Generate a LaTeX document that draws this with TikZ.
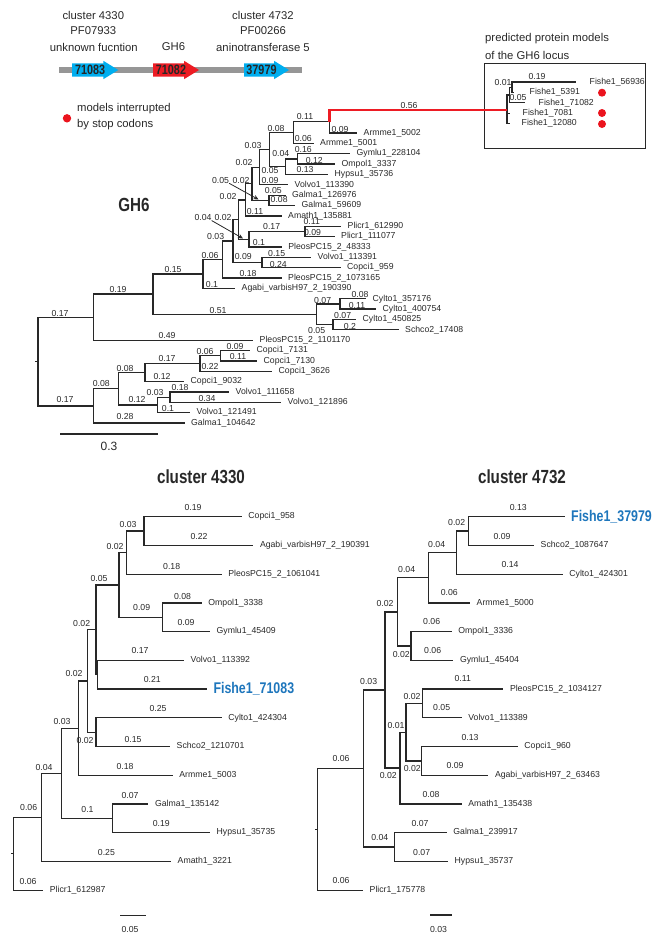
\documentclass[tikz,border=0pt]{standalone}
\usepackage{fontspec}
\setmainfont{Liberation Sans}
\newfontfamily\condfont[FakeStretch=0.8]{Liberation Sans}
\usetikzlibrary{arrows.meta}
\definecolor{genblue}{RGB}{0,174,239}
\definecolor{genred}{RGB}{237,28,36}
\definecolor{barg}{RGB}{150,150,150}
\definecolor{fishblue}{RGB}{30,118,188}
\definecolor{ln}{RGB}{40,40,40}
\definecolor{dotred}{RGB}{235,20,30}
\newcounter{lbc}
\newcommand\bl[2]{\stepcounter{lbc}\node[blab] (bl\arabic{lbc}) at (#1) {#2};}
\newcommand\lf[3]{\coordinate (#1) at (#2); \node[leaf] (#1t) at (#1) {#3};}
\newcommand\gene[5]{%
  \fill[#3] (#1,63.3) -- (#2-15,63.3) -- (#2-15,60.8) -- (#2,70) -- (#2-15,79.2) -- (#2-15,76.7) -- (#1,76.7) -- cycle;
  \node[genetxt] (#4) at ({(#1+#2)/2-5},70) {#5};}
\begin{document}
\begin{tikzpicture}[x=1pt,y=-1pt,
  tree/.style={draw=ln, line width=1.3pt},
  redline/.style={draw=genred, line width=2.5pt},
  blab/.style={font=\fontsize{8.7}{9}\selectfont, text=ln, inner sep=0pt},
  leaf/.style={anchor=west, xshift=6.5pt, font=\fontsize{8.7}{9}\selectfont, inner sep=0pt, text=ln},
  toptxt/.style={font=\fontsize{11.3}{12}\selectfont, text=ln, inner sep=0pt},
  genetxt/.style={font=\condfont\bfseries\fontsize{13.5}{14}\selectfont, text=black!85, inner sep=0pt},
  title/.style={font=\condfont\bfseries\fontsize{19}{20}\selectfont, text=ln, inner sep=0pt},
  fish/.style={anchor=west, xshift=6pt, font=\condfont\bfseries\fontsize{15.5}{16}\selectfont, text=fishblue, inner sep=0pt},
  arr/.style={draw=ln, line width=0.8pt, -{Stealth[length=5pt,width=4.5pt]}}]
\useasboundingbox (0,0) rectangle (658,938);

% ---------------- gene locus ----------------
\fill[barg] (59,67) rectangle (302,73.3);
\gene{72}{118.3}{genblue}{ga}{71083}
\gene{153}{199}{genred}{gb}{71082}
\gene{244}{289}{genblue}{gc}{37979}
\node[toptxt] (t1) at (93.3,15) {cluster 4330};
\node[toptxt] (t2) at (93.3,31) {PF07933};
\node[toptxt] (t3) at (93.8,47) {unknown fucntion};
\node[toptxt] (t4) at (173.5,47) {GH6};
\node[toptxt] (t5) at (263,15) {cluster 4732};
\node[toptxt] (t6) at (263,31) {PF00266};
\node[toptxt] (t7) at (263,47) {aninotransferase 5};
\fill[dotred] (67,118.3) circle (4.2);
\node[toptxt, anchor=west] (lg1) at (77,108.3) {models interrupted};
\node[toptxt, anchor=west] (lg2) at (77,124.3) {by stop codons};

% ---------------- inset ----------------
\node[toptxt, anchor=west] (it1) at (485,38.5) {predicted protein models};
\node[toptxt, anchor=west] (it2) at (485,55) {of the GH6 locus};
\node[draw=ln, line width=1.1pt, minimum width=161pt, minimum height=85pt, anchor=north west, inner sep=0pt] (box) at (484,63) {};
\coordinate (I0) at (507,110);
\coordinate (I1) at (509.5,95);
\coordinate (I2) at (512,87.2);
\coordinate (f1) at (576,82);
\coordinate (f2) at (514,92.4);
\coordinate (f3) at (525,102.8);
\coordinate (f4) at (510,113.2);
\coordinate (f5) at (510,123.6);
\draw[tree, line width=1.1pt] (I0) |- (I1);
\draw[tree, line width=1.1pt] (I0) |- (f4);
\draw[tree, line width=1.1pt] (I0) |- (f5);
\draw[tree, line width=1.1pt] (I1) |- (I2);
\draw[tree, line width=1.1pt] (I1) |- (f3);
\draw[tree, line width=1.1pt] (I2) |- (f1);
\draw[tree, line width=1.1pt] (I2) |- (f2);
\node[leaf, xshift=7pt] (f1t) at (f1) {Fishe1\_56936};
\node[leaf, xshift=9pt] (f2t) at (f2) {Fishe1\_5391};
\node[leaf, xshift=7pt] (f3t) at (f3) {Fishe1\_71082};
\node[leaf, xshift=6pt] (f4t) at (f4) {Fishe1\_7081};
\node[leaf, xshift=5pt] (f5t) at (f5) {Fishe1\_12080};
\bl{537,77}{0.19}
\bl{503,83}{0.01}
\bl{518,98}{0.05}
\fill[dotred] (602,92.7) circle (4);
\fill[dotred] (602,113) circle (4);
\fill[dotred] (602,124) circle (4);

% ---------------- GH6 tree ----------------
\node[title] (gh6) at (134,205) {GH6};
\coordinate (root) at (38,361.5);
\coordinate (A1) at (93.3,317.15);
\coordinate (B0) at (93.3,405.9);
\coordinate (H) at (153,294.1);
\coordinate (I) at (203,273.95);
\coordinate (J) at (316.7,314.3);
\coordinate (M) at (222.7,259.5);
\coordinate (N) at (233,241);
\coordinate (O) at (262,262.5);
\coordinate (R) at (238.5,219.5);
\coordinate (P) at (249,239.2);
\coordinate (Q) at (305,231.4);
\coordinate (S) at (245.5,199.85);
\coordinate (S2) at (252,183.8);
\coordinate (S3) at (259.5,167.2);
\coordinate (Z) at (269,200.35);
\coordinate (V) at (269.3,149.55);
\coordinate (T) at (293.3,132.45);
\coordinate (U) at (329.3,121.5);
\coordinate (X) at (285.5,166.65);
\coordinate (W) at (297.5,158.9);
\coordinate (K) at (340,303.95);
\coordinate (L) at (333,324.65);
\coordinate (B) at (118.3,388.75);
\coordinate (C) at (145,372.55);
\coordinate (D) at (200,363.5);
\coordinate (E) at (220.5,355.75);
\coordinate (F) at (157.3,404.95);
\coordinate (G) at (170,397.2);
\lf{g1}{357,133.0}{Armme1\_5002}
\lf{g2}{313.5,143.4}{Armme1\_5001}
\lf{g3}{350,153.7}{Gymlu1\_228104}
\lf{g4}{335,164.1}{Ompol1\_3337}
\lf{g5}{328,174.4}{Hypsu1\_35736}
\lf{g6}{288,184.8}{Volvo1\_113390}
\lf{g7}{285.5,195.2}{Galma1\_126976}
\lf{g8}{295,205.5}{Galma1\_59609}
\lf{g9}{281.5,215.9}{Amath1\_135881}
\lf{g10}{341,226.2}{Plicr1\_612990}
\lf{g11}{334.5,236.6}{Plicr1\_111077}
\lf{g12}{281.7,247.0}{PleosPC15\_2\_48333}
\lf{g13}{311,257.3}{Volvo1\_113391}
\lf{g14}{340.5,267.7}{Copci1\_959}
\lf{g15}{281.5,278.0}{PleosPC15\_2\_1073165}
\lf{g16}{235,288.4}{Agabi\_varbisH97\_2\_190390}
\lf{g17}{366,298.8}{Cylto1\_357176}
\lf{g18}{376,309.1}{Cylto1\_400754}
\lf{g19}{356,319.5}{Cylto1\_450825}
\lf{g20}{398.5,329.8}{Schco2\_17408}
\lf{g21}{253,340.2}{PleosPC15\_2\_1101170}
\lf{g22}{250,350.6}{Copci1\_7131}
\lf{g23}{257,360.9}{Copci1\_7130}
\lf{g24}{272,371.3}{Copci1\_3626}
\lf{g25}{184,381.6}{Copci1\_9032}
\lf{g26}{229,392.0}{Volvo1\_111658}
\lf{g27}{281,402.4}{Volvo1\_121896}
\lf{g28}{190,412.7}{Volvo1\_121491}
\lf{g29}{184.5,423.1}{Galma1\_104642}
\draw[tree] (root) -- ++(-3,0);
\foreach \p/\c in {root/A1,root/B0,A1/H,A1/g21,H/I,H/J,I/M,I/g16,M/N,M/g15,N/R,N/O,R/S,R/P,S/S2,S/g9,S2/S3,S2/Z,S3/V,S3/g6,V/T,V/X,T/U,T/g2,U/g1,X/W,X/g5,W/g3,W/g4,Z/g7,Z/g8,P/Q,P/g12,Q/g10,Q/g11,O/g13,O/g14,J/K,J/L,K/g17,K/g18,L/g19,L/g20,B0/B,B0/g29,B/C,B/F,C/D,C/g25,D/E,D/g24,E/g22,E/g23,F/G,F/g28,G/g26,G/g27}
  \draw[tree] (\p) |- (\c);
\draw[redline] (U) |- (I0);
\bl{409,106}{0.56}
\bl{305,116}{0.11}
\bl{340,129.3}{0.09}
\bl{276,128.3}{0.08}
\bl{303.3,138.3}{0.06}
\bl{303.3,150}{0.16}
\bl{280.8,154}{0.04}
\bl{314.3,161}{0.12}
\bl{305,169.3}{0.13}
\bl{270,170.7}{0.05}
\bl{270,180}{0.09}
\bl{253,145}{0.03}
\bl{244,162.7}{0.02}
\bl{241,180}{0.02}
\node[blab] (a05) at (220.5,180) {0.05};
\bl{273.3,190}{0.05}
\bl{279.2,199.3}{0.08}
\bl{228,196.7}{0.02}
\bl{255,211.7}{0.11}
\node[blab] (a04) at (203,217.3) {0.04};
\bl{223,217.3}{0.02}
\bl{271.7,226.7}{0.17}
\bl{311.7,221.7}{0.11}
\bl{312.5,232.7}{0.09}
\bl{215.7,236.7}{0.03}
\bl{259,242.7}{0.1}
\bl{243.3,256.7}{0.09}
\bl{276.7,253.3}{0.15}
\bl{278.3,264}{0.24}
\bl{210,255}{0.06}
\bl{248,273}{0.18}
\bl{173,269}{0.15}
\bl{212,284}{0.1}
\bl{118,289}{0.19}
\bl{218,310}{0.51}
\bl{322.7,300}{0.07}
\bl{360,294}{0.08}
\bl{357,305}{0.11}
\bl{342.7,315}{0.07}
\bl{350,326}{0.2}
\bl{316.7,330}{0.05}
\bl{60,313}{0.17}
\bl{167,335}{0.49}
\bl{205,351}{0.06}
\bl{235,346.7}{0.09}
\bl{238,356}{0.11}
\bl{167,358}{0.17}
\bl{210,366.7}{0.22}
\bl{125,368}{0.08}
\bl{101.3,383.3}{0.08}
\bl{162,376}{0.12}
\bl{137,399}{0.12}
\bl{155,392.7}{0.03}
\bl{180,387}{0.18}
\bl{207,398}{0.34}
\bl{168,408}{0.1}
\bl{65,399}{0.17}
\bl{125,416}{0.28}
\coordinate (tz) at (258.5,199.5);
\coordinate (tp) at (243,238.5);
\draw[arr] (a05.south east) -- (tz);
\draw[arr] (a04.south east) -- (tp);
\coordinate (sb1) at (60,434);
\coordinate (sb2) at (158.3,434);
\draw[tree] (sb1) -- (sb2);
\node[blab, font=\fontsize{12}{13}\selectfont] (sbt) at (109,446.7) {0.3};

% ---------------- cluster 4330 ----------------
\node[title] (c4330) at (201,477) {cluster 4330};
\coordinate (rA) at (13.3,853.8);
\coordinate (n12) at (41.8,817.4);
\coordinate (n10) at (61.7,773.25);
\coordinate (n9) at (78.3,728.15);
\coordinate (n7) at (87.3,681);
\coordinate (n8) at (96,732.15);
\coordinate (n5) at (96,629.8);
\coordinate (n6) at (97.5,674.7);
\coordinate (n3) at (119,584.9);
\coordinate (n2) at (126.7,552.6);
\coordinate (n1) at (144,531.05);
\coordinate (n4) at (162.3,617.25);
\coordinate (n11) at (112.3,818.35);
\lf{c1}{241.7,516.7}{Copci1\_958}
\lf{c2}{253.3,545.4}{Agabi\_varbisH97\_2\_190391}
\lf{c3}{221.7,574.2}{PleosPC15\_2\_1061041}
\lf{c4}{201.7,602.9}{Ompol1\_3338}
\lf{c5}{210,631.6}{Gymlu1\_45409}
\lf{c6}{184,660.3}{Volvo1\_113392}
\coordinate (c7) at (207.3,689.1);
\node[fish] (c7t) at (c7) {Fishe1\_71083};
\lf{c8}{221.7,717.8}{Cylto1\_424304}
\lf{c9}{170,746.5}{Schco2\_1210701}
\lf{c10}{172.7,775.3}{Armme1\_5003}
\lf{c11}{148.3,804}{Galma1\_135142}
\lf{c12}{210,832.7}{Hypsu1\_35735}
\lf{c13}{171,861.5}{Amath1\_3221}
\lf{c14}{43.2,890.2}{Plicr1\_612987}
\draw[tree] (rA) -- ++(-2.5,0);
\foreach \p/\c in {rA/n12,rA/c14,n12/n10,n12/c13,n10/n9,n10/n11,n9/n7,n9/c10,n7/n5,n7/n8,n5/n3,n5/n6,n3/n2,n3/n4,n2/n1,n2/c3,n1/c1,n1/c2,n4/c4,n4/c5,n6/c6,n6/c7,n8/c8,n8/c9,n11/c11,n11/c12}
  \draw[tree] (\p) |- (\c);
\bl{193,507.3}{0.19}
\bl{199,536}{0.22}
\bl{128,524.3}{0.03}
\bl{115,546.7}{0.02}
\bl{171.7,566.7}{0.18}
\bl{182.5,596.7}{0.08}
\bl{141.7,607.3}{0.09}
\bl{186,622.7}{0.09}
\bl{99,578.7}{0.05}
\bl{81.7,623.3}{0.02}
\bl{140,650.7}{0.17}
\bl{152.3,679.3}{0.21}
\bl{74,673.3}{0.02}
\bl{158,708.3}{0.25}
\bl{85,740}{0.02}
\bl{133,739.3}{0.15}
\bl{62,721}{0.03}
\bl{125,766}{0.18}
\bl{44,767.7}{0.04}
\bl{130,795.3}{0.07}
\bl{87.5,809}{0.1}
\bl{161.3,823.3}{0.19}
\bl{28.7,807.7}{0.06}
\bl{106.4,852.3}{0.25}
\bl{28,881}{0.06}
\coordinate (sc1) at (120.4,915.7);
\coordinate (sc2) at (146,915.7);
\draw[tree] (sc1) -- (sc2);
\bl{130,929.3}{0.05}

% ---------------- cluster 4732 ----------------
\node[title] (c4732) at (522,477) {cluster 4732};
\coordinate (rB) at (317.7,829.4);
\coordinate (m11) at (363.3,768.55);
\coordinate (m12) at (394.3,847.1);
\coordinate (m6) at (385,690);
\coordinate (m4) at (397.7,611.85);
\coordinate (m3) at (428.3,577.75);
\coordinate (m2) at (456.7,552.6);
\coordinate (m1) at (468.3,531.05);
\coordinate (m5) at (411,645.95);
\coordinate (m7) at (400,768.1);
\coordinate (m9) at (406,732.2);
\coordinate (m8) at (422.3,703.45);
\coordinate (m10) at (421.7,760.9);
\coordinate (d1) at (565,516.7);
\node[fish] (d1t) at (d1) {Fishe1\_37979};
\lf{d2}{534,545.4}{Schco2\_1087647}
\lf{d3}{562.7,574.2}{Cylto1\_424301}
\lf{d4}{470,602.9}{Armme1\_5000}
\lf{d5}{451.7,631.6}{Ompol1\_3336}
\lf{d6}{453.3,660.3}{Gymlu1\_45404}
\lf{d7}{503.3,689.1}{PleosPC15\_2\_1034127}
\lf{d8}{461.7,717.8}{Volvo1\_113389}
\lf{d9}{517.7,746.5}{Copci1\_960}
\lf{d10}{488.3,775.3}{Agabi\_varbisH97\_2\_63463}
\lf{d11}{461.7,804}{Amath1\_135438}
\lf{d12}{446.7,832.7}{Galma1\_239917}
\lf{d13}{448,861.5}{Hypsu1\_35737}
\lf{d14}{363,890.2}{Plicr1\_175778}
\draw[tree] (rB) -- ++(-2.5,0);
\foreach \p/\c in {rB/m11,rB/d14,m11/m6,m11/m12,m12/d12,m12/d13,m6/m4,m6/m7,m4/m3,m4/m5,m3/m2,m3/d4,m2/m1,m2/d3,m1/d1,m1/d2,m5/d5,m5/d6,m7/m9,m7/d11,m9/m8,m9/m10,m8/d7,m8/d8,m10/d9,m10/d10}
  \draw[tree] (\p) |- (\c);
\bl{518.3,507.3}{0.13}
\bl{502,536}{0.09}
\bl{456.7,522.7}{0.02}
\bl{510,564.7}{0.14}
\bl{436.7,544.7}{0.04}
\bl{449.3,592.7}{0.06}
\bl{406.7,569.3}{0.04}
\bl{431.7,621.3}{0.06}
\bl{432.7,650}{0.06}
\bl{401.3,654.5}{0.02}
\bl{385,603.3}{0.02}
\bl{462.7,678.7}{0.11}
\bl{441.7,707.3}{0.05}
\bl{412,696}{0.02}
\bl{470,737}{0.13}
\bl{455,765.3}{0.09}
\bl{412.3,768.3}{0.02}
\bl{396,725}{0.01}
\bl{431,794}{0.08}
\bl{388.3,775}{0.02}
\bl{368.7,681.7}{0.03}
\bl{420,823}{0.07}
\bl{421.7,852.3}{0.07}
\bl{379.8,837.7}{0.04}
\bl{341,758.3}{0.06}
\bl{341,880.3}{0.06}
\coordinate (sd1) at (430.1,915);
\coordinate (sd2) at (452.4,915);
\draw[tree] (sd1) -- (sd2);
\bl{438.5,929.3}{0.03}
\end{tikzpicture}
\end{document}
